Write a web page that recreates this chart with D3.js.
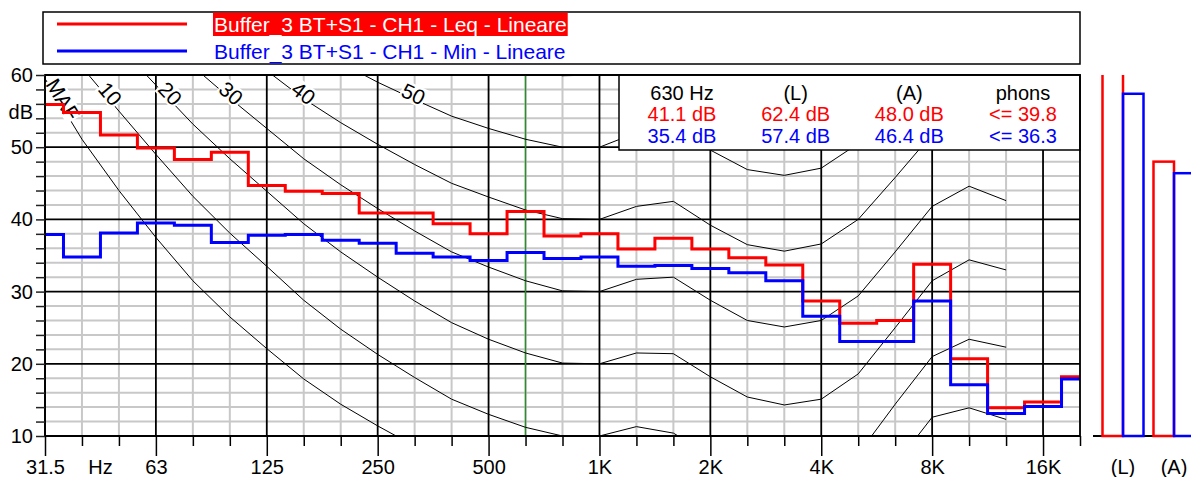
<!DOCTYPE html>
<html><head><meta charset="utf-8">
<script src="https://cdn.jsdelivr.net/npm/d3@7"></script>
<style>
html,body{margin:0;padding:0;background:#fff;}
svg{display:block;font-family:"Liberation Sans",Arial,Helvetica,sans-serif;}
</style></head><body>
<svg id="chart" width="1191" height="477"></svg>
<script>
// ---------------- DATA ----------------
const bands = ["31.5","40","50","63","80","100","125","160","200","250","315","400","500","630","800","1K","1.25K","1.6K","2K","2.5K","3.15K","4K","5K","6.3K","8K","10K","12.5K","16K","20K"];
const octaveLabels = ["31.5","63","125","250","500","1K","2K","4K","8K","16K"];
const unitLabel = "Hz";
const yTickValues = [10,12,14,16,18,20,22,24,26,28,30,32,34,36,38,40,42,44,46,48,50,52,54,56,58,60];
const yLabelValues = [10,20,30,40,50,60];
const yUnit = "dB";

const seriesNames = ["Buffer_3 BT+S1 - CH1 - Leq - Lineare","Buffer_3 BT+S1 - CH1 - Min - Lineare"];
const leqValues = [55.9,54.8,51.7,49.9,48.3,49.3,44.7,43.9,43.6,40.9,40.9,39.4,38.0,41.1,37.7,38.0,35.9,37.4,35.9,34.7,33.7,28.7,25.6,26.0,33.8,20.7,13.9,14.7,18.2];
const minValues = [37.9,34.8,38.1,39.5,39.2,36.8,37.8,37.9,37.1,36.7,35.3,34.8,34.3,35.4,34.6,34.8,33.5,33.6,33.2,32.6,31.5,26.6,23.1,23.1,28.7,17.1,13.1,14.1,17.9];

// ISO 226 equal-loudness contours, bands 31.5 Hz .. 12.5 kHz
const contourNames = ["MAF","10","20","30","40","50","60"];
const contourMAF = [59.5,51.1,44.0,37.5,31.5,26.5,22.1,17.9,14.4,11.4,8.6,6.2,4.4,3.0,2.2,2.4,3.5,1.7,-1.3,-4.2,-6.0,-5.4,-1.5,6.0,12.6,13.9,12.3];
const contour10 = [68.2,61.1,55.0,49.0,43.2,38.1,33.5,28.8,24.8,21.3,18.1,15.1,13.0,11.2,10.0,10.0,11.3,10.4,7.3,4.5,3.0,3.8,7.5,14.4,21.0,23.4,22.3];
const contour20 = [null,69.6,64.0,58.6,53.2,48.4,43.9,39.4,35.5,32.0,28.7,25.7,23.4,21.5,20.1,20.0,21.5,21.4,18.2,15.4,14.3,15.1,18.6,25.0,31.5,34.4,33.0];
const contour30 = [null,null,71.3,66.2,61.2,56.8,52.6,48.4,44.8,41.5,38.4,35.5,33.4,31.5,30.1,30.0,31.7,32.0,28.8,26.0,25.1,26.0,29.4,35.5,41.8,44.6,42.6];
const contour40 = [null,null,null,null,68.5,64.4,60.6,56.7,53.4,50.4,47.6,45.0,43.1,41.3,40.1,40.0,41.8,42.5,39.2,36.5,35.6,36.6,40.0,45.8,51.8,54.3,51.5];
const contour50 = [null,null,null,null,null,null,68.2,64.7,61.7,59.0,56.6,54.3,52.6,51.1,50.0,50.0,52.0,52.9,49.6,46.9,46.1,47.1,50.5,56.1,61.8,63.8,60.1];
const contour60 = [null,null,null,null,null,null,null,null,null,67.5,65.4,63.5,62.1,60.8,59.9,60.0,62.2,63.2,60.0,57.3,56.4,57.6,60.9,66.4,null,null,null];

const cursorBand = "630";
const infoHeaders = ["630 Hz","(L)","(A)","phons"];
const infoLeq = ["41.1 dB","62.4 dB","48.0 dB","<= 39.8"];
const infoMin = ["35.4 dB","57.4 dB","46.4 dB","<= 36.3"];

const overallCats = ["(L)","(A)"];
const overallLeq = [62.4,48.0];
const overallMin = [57.4,46.4];

// ---------------- LAYOUT / STYLE ----------------
const RED = "#ff0000", BLUE = "#0000ff";
const FONT = 20, LFONT = 21;
const svg = d3.select("#chart");
const P = {left:45,right:1080,top:75,bottom:436};

const x = d3.scalePoint().domain(bands).range([P.left,P.right]);
const y = d3.scaleLinear().domain([10,60]).range([P.bottom,P.top]);

const defs = svg.append("defs");
defs.append("clipPath").attr("id","plotClip").append("rect")
  .attr("x",P.left).attr("y",P.top).attr("width",P.right-P.left).attr("height",P.bottom-P.top);
defs.append("clipPath").attr("id","barClip").append("rect")
  .attr("x",P.right+2).attr("y",P.top).attr("width",1191-P.right).attr("height",P.bottom-P.top+4);

// ---------- grid ----------
const grid = svg.append("g");
const isOct = b => octaveLabels.includes(b);
grid.selectAll("line.hmin").data(yTickValues.filter(v=>v%10!==0)).join("line")
  .attr("x1",P.left).attr("x2",P.right).attr("y1",d=>y(d)).attr("y2",d=>y(d))
  .attr("stroke","#c8c8c8").attr("stroke-width",2);
grid.selectAll("line.vmin").data(bands.filter(b=>!isOct(b))).join("line")
  .attr("x1",d=>x(d)).attr("x2",d=>x(d)).attr("y1",P.top).attr("y2",P.bottom)
  .attr("stroke","#c8c8c8").attr("stroke-width",2);
grid.selectAll("line.hmaj").data(yLabelValues).join("line")
  .attr("x1",P.left).attr("x2",P.right).attr("y1",d=>y(d)).attr("y2",d=>y(d))
  .attr("stroke","#000").attr("stroke-width",1.8);
grid.selectAll("line.vmaj").data(bands.filter(isOct)).join("line")
  .attr("x1",d=>x(d)).attr("x2",d=>x(d)).attr("y1",P.top).attr("y2",P.bottom)
  .attr("stroke","#000").attr("stroke-width",1.8);
// cursor
grid.append("line").attr("x1",x(cursorBand)).attr("x2",x(cursorBand)).attr("y1",P.top).attr("y2",P.bottom)
  .attr("stroke","#2e8b2e").attr("stroke-width",1.5);

// ---------- contours ----------
const contourData = [contourMAF,contour10,contour20,contour30,contour40,contour50,contour60];
const cLine = d3.line().defined(d=>d!=null).x((d,i)=>x(bands[i])).y(d=>y(d));
const cg = svg.append("g").attr("clip-path","url(#plotClip)");
cg.selectAll("path.contour").data(contourData).join("path")
  .attr("d",cLine).attr("fill","none").attr("stroke","#000").attr("stroke-width",1);

// contour labels
const labelLevels = [56.3,57,57,57,57,56.8];
function crossing(vals, level){
  for(let i=0;i<vals.length-1;i++){
    const a=vals[i], b=vals[i+1];
    if(a==null||b==null) continue;
    if(a>=level && b<level){
      const t=(a-level)/(a-b);
      const x0=x(bands[i]), x1=x(bands[i+1]);
      const ang=Math.atan2(y(b)-y(a), x1-x0)*180/Math.PI;
      return {px:x0+t*(x1-x0), py:y(level), ang};
    }
  }
  return null;
}
const lg = svg.append("g").attr("clip-path","url(#plotClip)");
labelLevels.forEach((lev,k)=>{
  const c = crossing(contourData[k], lev);
  if(!c) return;
  const g = lg.append("g").attr("transform",`translate(${c.px},${c.py}) rotate(${c.ang})`);
  const r = g.append("rect").attr("fill","#fff");
  const t = g.append("text").attr("text-anchor","middle").attr("y",3)
    .attr("font-size",LFONT).attr("fill","#000").text(contourNames[k]);
  const bb = t.node().getBBox();
  r.attr("x",bb.x-1).attr("y",bb.y+2).attr("width",bb.width+2).attr("height",bb.height-4);
});

// ---------- series (step lines) ----------
const sLine = d3.line().curve(d3.curveStep).x((d,i)=>x(bands[i])).y(d=>y(d));
const sg = svg.append("g").attr("clip-path","url(#plotClip)");
sg.append("path").datum(leqValues).attr("d",sLine).attr("fill","none").attr("stroke",RED).attr("stroke-width",3);
sg.append("path").datum(minValues).attr("d",sLine).attr("fill","none").attr("stroke",BLUE).attr("stroke-width",3);

// ---------- info box ----------
const ib = svg.append("g");
ib.append("rect").attr("x",619).attr("y",P.top).attr("width",P.right-619).attr("height",75)
  .attr("fill","#fff").attr("stroke","#000").attr("stroke-width",1.5);
const ix = d3.scalePoint().domain(d3.range(infoHeaders.length)).range([682,1023]);
[[infoHeaders,"#000",100],[infoLeq,RED,121],[infoMin,BLUE,142.5]].forEach(([arr,col,by])=>{
  ib.selectAll(null).data(arr).join("text")
    .attr("x",(d,i)=>ix(i)).attr("y",by).attr("text-anchor","middle")
    .attr("font-size",FONT).attr("fill",col).text(d=>d);
});

// ---------- plot border ----------
svg.append("rect").attr("x",P.left).attr("y",P.top).attr("width",P.right-P.left).attr("height",P.bottom-P.top)
  .attr("fill","none").attr("stroke","#000").attr("stroke-width",1.8);

// ---------- axes ----------
const yAxis = svg.append("g").attr("transform",`translate(${P.left},0)`)
  .call(d3.axisLeft(y).tickValues(yTickValues).tickSize(9).tickPadding(3)
        .tickFormat(d=> yLabelValues.includes(d) ? d : ""));
yAxis.select(".domain").remove();
yAxis.selectAll(".tick line").attr("stroke","#222").attr("stroke-width",1.5);
yAxis.selectAll(".tick text").attr("font-size",FONT).attr("fill","#000").attr("font-family",null);
svg.append("text").attr("x",P.left-12).attr("y",y(55)+8).attr("text-anchor","end")
  .attr("font-size",FONT).attr("fill","#000").text(yUnit);

const xMinor = svg.append("g").attr("transform",`translate(0,${P.bottom})`)
  .call(d3.axisBottom(x).tickValues(bands.filter(b=>!isOct(b))).tickSize(10).tickFormat(""));
xMinor.select(".domain").remove();
xMinor.selectAll(".tick line").attr("stroke","#000").attr("stroke-width",1.5);
const xMajor = svg.append("g").attr("transform",`translate(0,${P.bottom})`)
  .call(d3.axisBottom(x).tickValues(octaveLabels).tickSize(20).tickPadding(4));
xMajor.select(".domain").remove();
xMajor.selectAll(".tick line").attr("stroke","#000").attr("stroke-width",1.5);
xMajor.selectAll(".tick text").attr("font-size",FONT).attr("fill","#000").attr("font-family",null);
svg.append("text").attr("x",(x("40")+x("50"))/2).attr("y",P.bottom+24).attr("dy","0.71em")
  .attr("text-anchor","middle").attr("font-size",FONT).attr("fill","#000").text(unitLabel);

// ---------- legend ----------
const leg = svg.append("g");
leg.append("rect").attr("x",43).attr("y",12).attr("width",P.right-43).attr("height",52)
  .attr("fill","#fff").attr("stroke","#000").attr("stroke-width",1.5);
const legRows = [{name:seriesNames[0],col:RED,ly:24,hl:true},{name:seriesNames[1],col:BLUE,ly:51,hl:false}];
legRows.forEach(r=>{
  leg.append("line").attr("x1",57).attr("x2",187).attr("y1",r.ly).attr("y2",r.ly)
    .attr("stroke",r.col).attr("stroke-width",3);
  const bg = leg.append("rect");
  const t = leg.append("text").attr("x",214).attr("y",r.ly+7.5).attr("font-size",LFONT)
    .attr("fill",r.hl?"#fff":r.col).text(r.name);
  if(r.hl){
    const w = t.node().getComputedTextLength();
    bg.attr("x",213).attr("y",12.5).attr("width",w+2).attr("height",23.5).attr("fill",RED);
  } else bg.remove();
});

// ---------- overall bars ----------
const bx = d3.scaleBand().domain(overallCats).range([1097.5,1199.5]).paddingInner(0.196).paddingOuter(0.098);
const bs = d3.scaleBand().domain(["Leq","Min"]).range([0,bx.bandwidth()]);
svg.append("line").attr("x1",1093).attr("x2",1191).attr("y1",P.bottom).attr("y2",P.bottom)
  .attr("stroke","#000").attr("stroke-width",1.8);
const barData = overallCats.flatMap((c,i)=>[{c,s:"Leq",v:overallLeq[i],col:RED},{c,s:"Min",v:overallMin[i],col:BLUE}]);
svg.append("g").attr("clip-path","url(#barClip)").selectAll("rect").data(barData).join("rect")
  .attr("x",d=>bx(d.c)+bs(d.s)).attr("width",bs.bandwidth())
  .attr("y",d=>y(d.v)).attr("height",d=>y(10)-y(d.v))
  .attr("fill","none").attr("stroke",d=>d.col).attr("stroke-width",2.5);
svg.selectAll("text.cat").data(overallCats).join("text").attr("class","cat")
  .attr("x",d=>bx(d)+bx.bandwidth()/2).attr("y",P.bottom+24).attr("dy","0.71em")
  .attr("text-anchor","middle").attr("font-size",FONT).attr("fill","#000").text(d=>d);
</script>
</body></html>
